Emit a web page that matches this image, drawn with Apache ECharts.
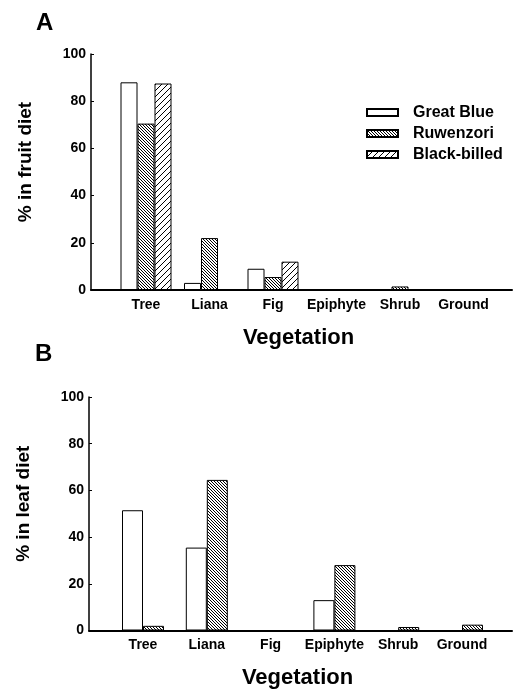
<!DOCTYPE html>
<html>
<head>
<meta charset="utf-8">
<script src="https://cdn.jsdelivr.net/npm/echarts@6/dist/echarts.min.js"></script>
<style>
html,body{margin:0;padding:0;background:#fff;}
#chart{width:524px;height:691px;}
</style>
</head>
<body>
<div id="chart"></div>
<script>
// ---- data ----
const categories = ['Tree', 'Liana', 'Fig', 'Epiphyte', 'Shrub', 'Ground'];
const seriesNames = ['Great Blue', 'Ruwenzori', 'Black-billed'];
const yTicks = [0, 20, 40, 60, 80, 100];
// Panel A: % in fruit diet
const fruitGreatBlue   = [88, 3, 9, 0, 0, 0];
const fruitRuwenzori   = [70.5, 22, 5.5, 0, 1.5, 0];
const fruitBlackBilled = [87.5, 0.3, 12, 0, 0, 0];
// Panel B: % in leaf diet
const leafGreatBlue    = [51.5, 35.5, 0, 13, 0, 0];
const leafRuwenzori    = [2, 64.5, 0, 28, 1.5, 2.5];

// ---- patterns ----
function hatch(period, dir, lw) {
  const c = document.createElement('canvas');
  c.width = period; c.height = period;
  const g = c.getContext('2d');
  g.fillStyle = '#fff';
  g.fillRect(0, 0, period, period);
  g.strokeStyle = '#000';
  g.lineWidth = lw;
  for (const k of [-period, 0, period]) {
    g.beginPath();
    if (dir === 'back') { g.moveTo(k, 0); g.lineTo(k + period, period); }
    else { g.moveTo(k, period); g.lineTo(k + period, 0); }
    g.stroke();
  }
  return { image: c, repeat: 'repeat' };
}
const fills = ['#ffffff', hatch(3, 'back', 1), hatch(6, 'fwd', 1)];

const FONT = "'Liberation Sans', Arial, Helvetica, sans-serif";
const pairs = arr => arr.map((v, i) => [i, v]);

function xAxisFor(gridIndex, min, max) {
  return {
    type: 'value', gridIndex, min, max,
    name: 'Vegetation', nameLocation: 'middle', nameGap: gridIndex === 0 ? 37 : 36,
    nameTextStyle: { fontFamily: FONT, fontWeight: 'bold', fontSize: 22, color: '#000', padding: [0, 6, 0, 0] },
    axisLine: { show: true, onZero: false, lineStyle: { color: '#000', width: 2 } },
    axisTick: { show: false },
    splitLine: { show: false },
    axisLabel: {
      customValues: categories.map((c, i) => i),
      formatter: v => categories[Math.round(v)] || '',
      fontFamily: FONT, fontWeight: 'bold', fontSize: 14, color: '#000', margin: 8
    }
  };
}
function yAxisFor(gridIndex, name) {
  return {
    type: 'value', gridIndex, min: 0, max: 100, interval: 20,
    name, nameLocation: 'middle', nameGap: 56, nameRotate: 90,
    nameTextStyle: { fontFamily: FONT, fontWeight: 'bold', fontSize: 19, color: '#000', padding: [0, 0, 0, 20] },
    axisLine: { show: true, onZero: false, lineStyle: { color: '#000', width: 1.5 } },
    axisTick: { show: true, inside: true, length: 3, lineStyle: { color: '#000', width: 1 } },
    splitLine: { show: false },
    axisLabel: {
      customValues: yTicks,
      fontFamily: FONT, fontWeight: 'bold', fontSize: 14, color: '#000', margin: 5
    }
  };
}
function barSeries(name, idx, data, axisIndex, width) {
  return {
    type: 'bar', name, xAxisIndex: axisIndex, yAxisIndex: axisIndex,
    data: pairs(data), barWidth: width, barGap: '0%',
    itemStyle: { color: fills[idx], borderColor: '#000', borderWidth: 1 },
    emphasis: { disabled: true },
    animation: false
  };
}

const chart = echarts.init(document.getElementById('chart'), null, { renderer: 'canvas' });
chart.setOption({
  backgroundColor: '#fff',
  animation: false,
  title: [
    { text: 'A', left: 36, top: 11, padding: 0, textStyle: { fontFamily: FONT, fontWeight: 'bold', fontSize: 24, color: '#000' } },
    { text: 'B', left: 35, top: 342, padding: 0, textStyle: { fontFamily: FONT, fontWeight: 'bold', fontSize: 24, color: '#000' } }
  ],
  legend: {
    data: seriesNames,
    orient: 'vertical',
    icon: 'rect',
    left: 366, top: 104.5,
    padding: 0,
    itemWidth: 31, itemHeight: 7, itemGap: 5,
    textStyle: { fontFamily: FONT, fontWeight: 'bold', fontSize: 16, color: '#000', padding: [0, 0, 0, 10] },
    selectedMode: false
  },
  grid: [
    { left: 91, right: 12, top: 54, height: 236 },
    { left: 89, right: 12, top: 397, height: 233.5 }
  ],
  xAxis: [
    xAxisFor(0, (91 - 146) / 63.5, (512 - 146) / 63.5),
    xAxisFor(1, (89 - 143) / 63.8, (512 - 143) / 63.8)
  ],
  yAxis: [
    yAxisFor(0, '% in fruit diet'),
    yAxisFor(1, '% in leaf diet')
  ],
  series: [
    barSeries('Great Blue', 0, fruitGreatBlue, 0, 17),
    barSeries('Ruwenzori', 1, fruitRuwenzori, 0, 17),
    barSeries('Black-billed', 2, fruitBlackBilled, 0, 17),
    barSeries('Great Blue', 0, leafGreatBlue, 1, 21),
    barSeries('Ruwenzori', 1, leafRuwenzori, 1, 21)
  ]
});
</script>
</body>
</html>
